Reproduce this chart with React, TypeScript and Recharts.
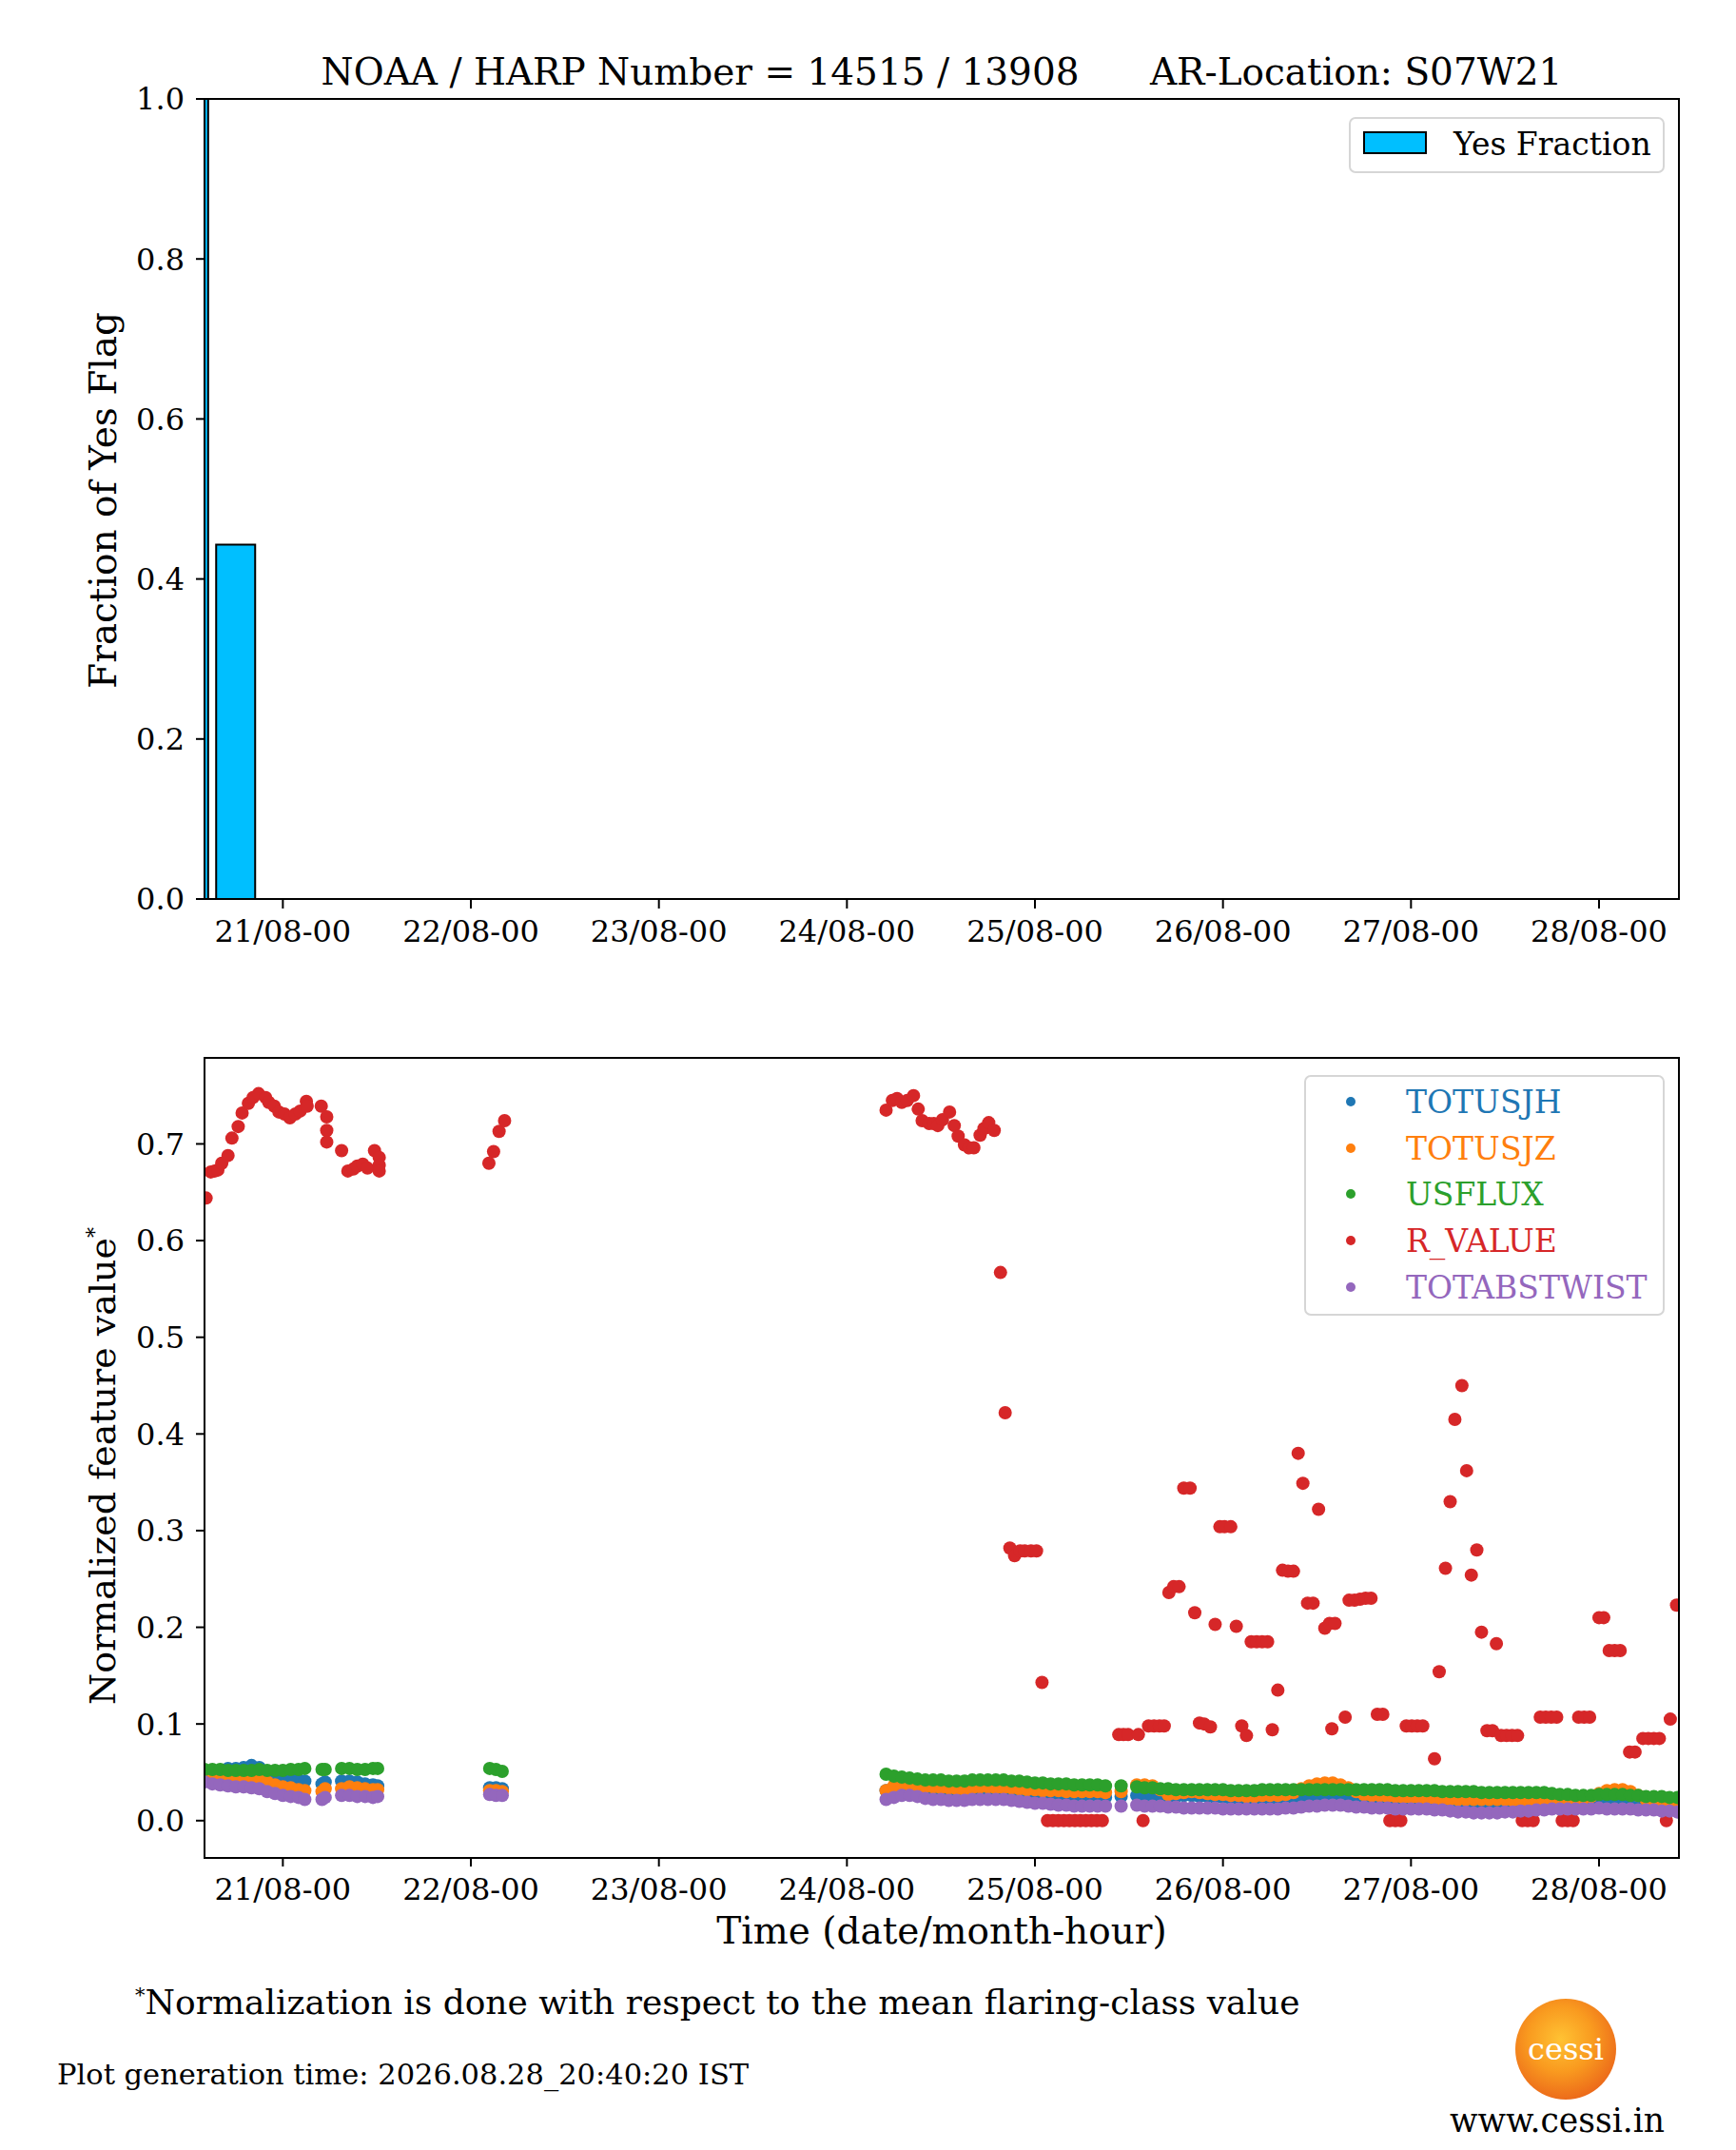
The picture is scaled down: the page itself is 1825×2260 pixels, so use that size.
import React from "react";
import {
  ComposedChart,
  Bar,
  ScatterChart,
  Scatter,
  XAxis,
  YAxis,
} from "recharts";

// hours counted from 20/08 00:00
const X_DOMAIN = [14, 202.2];
const DAY_TICKS = [24, 48, 72, 96, 120, 144, 168, 192];
const DAY_LABELS = ["21/08-00", "22/08-00", "23/08-00", "24/08-00", "25/08-00", "26/08-00", "27/08-00", "28/08-00"];

// top panel: 6-hour bins of the yes-flag fraction
const binHours = [12, 18];
const yesFraction = [1.0, 0.443];
const FRACTION_TICKS = [0, 0.2, 0.4, 0.6, 0.8, 1.0];

// bottom panel: feature cadence (hours) and normalized values
const featureHours = [
  14, 15, 16, 17, 18, 19, 20, 21, 22, 23, 24, 25, 26, 26.8, 29.0, 29.4, 31.5, 32.5, 33.5, 34.5, 35.5, 36.1,
  50.4, 51.2, 52.0,
  101, 102, 103, 104, 105, 106, 107, 108, 109, 110, 111, 112, 113, 114, 115, 116, 117, 118, 119, 120,
  121, 122, 123, 124, 125, 126, 127, 128, 129, 131,
  133, 134, 135, 136, 137, 138, 139, 140, 141, 142, 143, 144, 145, 146, 147, 148, 149, 150, 151, 152,
  153, 154, 155, 156, 157, 158, 159, 160, 161, 162, 163, 164, 165, 166, 167, 168, 169, 170, 171, 172,
  173, 174, 175, 176, 177, 178, 179, 180, 181, 182, 183, 184, 185, 186, 187, 188, 189, 190, 191, 192,
  193, 194, 195, 196, 197, 198, 199, 200, 201, 202,
];

const totusjh = [
  0.049, 0.050, 0.052, 0.054, 0.054, 0.055, 0.057, 0.055, 0.049, 0.046, 0.044, 0.043, 0.042, 0.041, 0.038, 0.040, 0.041, 0.041, 0.040, 0.038, 0.037, 0.036,
  0.034, 0.034, 0.033,
  0.031, 0.032, 0.032, 0.031, 0.030, 0.029, 0.029, 0.029, 0.029, 0.029, 0.030, 0.031, 0.032, 0.032, 0.031, 0.031, 0.030, 0.030, 0.029, 0.029,
  0.028, 0.027, 0.027, 0.027, 0.026, 0.026, 0.025, 0.025, 0.024, 0.025,
  0.026, 0.026, 0.026, 0.026, 0.025, 0.025, 0.026, 0.026, 0.025, 0.025, 0.024, 0.024, 0.023, 0.023, 0.022, 0.022, 0.022, 0.022, 0.022, 0.022,
  0.023, 0.024, 0.024, 0.025, 0.026, 0.026, 0.025, 0.025, 0.024, 0.023, 0.023, 0.022, 0.022, 0.022, 0.022, 0.022, 0.022, 0.022, 0.021, 0.021,
  0.020, 0.019, 0.019, 0.018, 0.018, 0.018, 0.018, 0.018, 0.018, 0.019, 0.019, 0.019, 0.019, 0.020, 0.020, 0.020, 0.021, 0.021, 0.021, 0.022,
  0.022, 0.021, 0.020, 0.020, 0.019, 0.018, 0.018, 0.017, 0.016, 0.015,
];

const totusjz = [
  0.045, 0.044, 0.043, 0.043, 0.043, 0.042, 0.043, 0.042, 0.040, 0.037, 0.035, 0.034, 0.032, 0.031, 0.030, 0.033, 0.033, 0.035, 0.034, 0.033, 0.032, 0.032,
  0.031, 0.031, 0.030,
  0.031, 0.036, 0.038, 0.037, 0.036, 0.035, 0.035, 0.034, 0.034, 0.033, 0.032, 0.034, 0.035, 0.035, 0.034, 0.034, 0.034, 0.033, 0.032, 0.032,
  0.031, 0.031, 0.031, 0.030, 0.030, 0.030, 0.030, 0.030, 0.029, 0.030,
  0.037, 0.037, 0.036, 0.032, 0.027, 0.028, 0.029, 0.030, 0.029, 0.028, 0.027, 0.027, 0.026, 0.026, 0.025, 0.025, 0.026, 0.026, 0.026, 0.027,
  0.029, 0.033, 0.036, 0.038, 0.039, 0.039, 0.037, 0.034, 0.030, 0.027, 0.026, 0.026, 0.025, 0.025, 0.024, 0.024, 0.024, 0.023, 0.023, 0.022,
  0.022, 0.022, 0.022, 0.022, 0.022, 0.022, 0.022, 0.022, 0.021, 0.021, 0.021, 0.022, 0.022, 0.022, 0.022, 0.022, 0.022, 0.023, 0.025, 0.028,
  0.031, 0.032, 0.032, 0.030, 0.026, 0.022, 0.020, 0.019, 0.018, 0.018,
];

const usflux = [
  0.053, 0.053, 0.053, 0.052, 0.052, 0.052, 0.052, 0.053, 0.052, 0.052, 0.052, 0.053, 0.053, 0.054, 0.053, 0.053, 0.054, 0.054, 0.053, 0.053, 0.054, 0.054,
  0.054, 0.053, 0.051,
  0.048, 0.046, 0.045, 0.044, 0.043, 0.042, 0.042, 0.042, 0.041, 0.041, 0.041, 0.042, 0.042, 0.042, 0.042, 0.042, 0.041, 0.041, 0.040, 0.039,
  0.039, 0.038, 0.038, 0.038, 0.037, 0.037, 0.037, 0.037, 0.036, 0.036,
  0.035, 0.034, 0.034, 0.033, 0.033, 0.032, 0.032, 0.032, 0.032, 0.032, 0.032, 0.032, 0.031, 0.031, 0.031, 0.031, 0.032, 0.032, 0.032, 0.032,
  0.032, 0.032, 0.032, 0.032, 0.032, 0.032, 0.032, 0.032, 0.032, 0.032, 0.032, 0.032, 0.032, 0.031, 0.031, 0.031, 0.031, 0.031, 0.031, 0.030,
  0.030, 0.030, 0.030, 0.030, 0.029, 0.029, 0.029, 0.029, 0.029, 0.029, 0.029, 0.029, 0.029, 0.028, 0.027, 0.027, 0.026, 0.026, 0.026, 0.027,
  0.027, 0.027, 0.027, 0.026, 0.026, 0.025, 0.025, 0.025, 0.024, 0.024,
];

const totabstwist = [
  0.040, 0.038, 0.037, 0.036, 0.035, 0.035, 0.034, 0.033, 0.030, 0.028, 0.026, 0.025, 0.024, 0.022, 0.022, 0.024, 0.026, 0.026, 0.025, 0.025, 0.024, 0.025,
  0.027, 0.026, 0.026,
  0.022, 0.024, 0.026, 0.026, 0.025, 0.023, 0.022, 0.022, 0.021, 0.021, 0.021, 0.022, 0.022, 0.022, 0.022, 0.022, 0.021, 0.020, 0.019, 0.018,
  0.018, 0.017, 0.016, 0.016, 0.015, 0.015, 0.015, 0.015, 0.015, 0.015,
  0.016, 0.015, 0.015, 0.015, 0.014, 0.014, 0.013, 0.013, 0.013, 0.013, 0.013, 0.012, 0.012, 0.012, 0.012, 0.012, 0.012, 0.012, 0.012, 0.013,
  0.013, 0.014, 0.015, 0.015, 0.016, 0.016, 0.016, 0.015, 0.014, 0.014, 0.013, 0.013, 0.013, 0.012, 0.012, 0.012, 0.012, 0.012, 0.011, 0.011,
  0.010, 0.009, 0.009, 0.008, 0.008, 0.008, 0.008, 0.009, 0.009, 0.010, 0.010, 0.011, 0.011, 0.012, 0.012, 0.012, 0.012, 0.012, 0.012, 0.013,
  0.012, 0.012, 0.012, 0.012, 0.011, 0.011, 0.011, 0.010, 0.010, 0.009,
];

// R_VALUE has its own (sparser) cadence
const rHours = [
  14.2, 14.8, 15.3, 15.7, 16.2, 17.0, 17.5, 18.3, 18.8, 19.6, 20.2, 20.9, 21.8, 22.2, 22.9, 23.5, 24.2, 24.9, 25.6, 26.2,
  27.0, 27.1, 28.9, 29.6, 29.6, 29.6, 31.5, 32.3, 33.0, 33.5, 34.2, 34.8, 35.7, 36.3, 36.3, 36.3,
  50.3, 50.9, 51.6, 52.3,
  101.0, 101.8, 102.4, 103.0, 103.7, 104.5, 105.1, 105.6, 106.5, 107.1, 107.6, 108.2, 109.1, 109.7, 110.2, 111.0, 111.6, 112.2,
  113.0, 113.5, 114.1, 114.8, 115.6, 116.2, 116.8, 117.4, 118.1, 118.7, 119.5, 120.2, 120.9,
  121.6, 122.3, 123.0, 123.7, 124.4, 125.1, 125.8, 126.5, 127.2, 127.9, 128.6,
  130.7, 131.3, 131.9, 133.2, 133.8, 134.5, 135.2, 135.9, 136.5, 137.1, 137.7, 138.4, 139.0, 139.8, 140.4, 141.0, 141.6, 142.4,
  143.0, 143.6, 144.2, 145.0, 145.7, 146.4, 147.0, 147.6, 148.3, 149.0, 149.7, 150.3, 151.0, 151.6, 152.3, 153.0, 153.6, 154.2,
  154.8, 155.5, 156.2, 157.0, 157.6, 157.9, 158.3, 159.6, 160.1, 160.8, 161.5, 162.2, 162.9, 163.7, 164.4, 165.3, 166.0, 166.7,
  167.4, 168.1, 168.8, 169.5, 171.0, 171.6, 172.4, 173.0, 173.6, 174.5, 175.1, 175.7, 176.4, 177.0, 177.7, 178.4, 178.9, 179.5,
  180.2, 180.9, 181.6, 182.2, 182.9, 183.6, 184.5, 185.2, 185.9, 186.6, 187.3, 188.0, 188.7, 189.4, 190.1, 190.8, 192.0, 192.6,
  193.3, 194.0, 194.7, 195.9, 196.6, 197.6, 198.3, 199.0, 199.7, 200.6, 201.1, 201.9,
];

const rValue = [
  0.644, 0.671, 0.672, 0.673, 0.680, 0.688, 0.706, 0.718, 0.732, 0.742, 0.748, 0.752, 0.748, 0.743, 0.739, 0.733, 0.731, 0.727, 0.731, 0.734,
  0.744, 0.739, 0.739, 0.728, 0.714, 0.702, 0.693, 0.672, 0.674, 0.677, 0.679, 0.675, 0.693, 0.686, 0.678, 0.672,
  0.680, 0.692, 0.713, 0.724,
  0.735, 0.745, 0.747, 0.743, 0.745, 0.750, 0.736, 0.724, 0.721, 0.721, 0.719, 0.725, 0.733, 0.719, 0.708, 0.699, 0.696, 0.696,
  0.709, 0.716, 0.722, 0.714, 0.567, 0.422, 0.282, 0.274, 0.279, 0.279, 0.279, 0.279, 0.143,
  0, 0, 0, 0, 0, 0, 0, 0, 0, 0, 0,
  0.089, 0.089, 0.089, 0.089, 0, 0.098, 0.098, 0.098, 0.098, 0.236, 0.242, 0.242, 0.344, 0.344, 0.215, 0.101, 0.100, 0.097,
  0.203, 0.304, 0.304, 0.304, 0.201, 0.098, 0.088, 0.185, 0.185, 0.185, 0.185, 0.094, 0.135, 0.259, 0.258, 0.258, 0.380, 0.349,
  0.225, 0.225, 0.322, 0.199, 0.204, 0.095, 0.204, 0.107, 0.228, 0.228, 0.229, 0.230, 0.230, 0.110, 0.110, 0, 0, 0,
  0.098, 0.098, 0.098, 0.098, 0.064, 0.154, 0.261, 0.330, 0.415, 0.450, 0.362, 0.254, 0.280, 0.195, 0.093, 0.093, 0.183, 0.088,
  0.088, 0.088, 0.088, 0, 0, 0, 0.107, 0.107, 0.107, 0.107, 0, 0, 0, 0.107, 0.107, 0.107, 0.210, 0.210,
  0.176, 0.176, 0.176, 0.071, 0.071, 0.085, 0.085, 0.085, 0.085, 0, 0.105, 0.223,
];

const FEATURE_TICKS = [0, 0.1, 0.2, 0.3, 0.4, 0.5, 0.6, 0.7];

const FONT = '"DejaVu Serif", serif';
const tickStyle = { fill: "#000", fontSize: 32, fontFamily: FONT };

const yesData = binHours.map((h, i) => ({ h, f: yesFraction[i] }));
const toPoints = (vals: number[]) => featureHours.map((h, i) => ({ h, v: vals[i] }));

const features = [
  { name: "TOTUSJH", color: "#1f77b4", data: toPoints(totusjh) },
  { name: "TOTUSJZ", color: "#ff7f0e", data: toPoints(totusjz) },
  { name: "USFLUX", color: "#2ca02c", data: toPoints(usflux) },
  { name: "R_VALUE", color: "#d62728", data: rHours.map((h, i) => ({ h, v: rValue[i] })) },
  { name: "TOTABSTWIST", color: "#9467bd", data: toPoints(totabstwist) },
];

const dayLabel = (v: number) => DAY_LABELS[DAY_TICKS.indexOf(v)] ?? "";

function Dot(color: string) {
  return (props: any) => <circle cx={props.cx} cy={props.cy} r={7} fill={color} />;
}

function Frame({ top }: { top: number }) {
  return (
    <div
      style={{
        position: "absolute",
        left: 214,
        top,
        width: 1552,
        height: 843,
        boxSizing: "border-box",
        border: "2px solid #000",
        pointerEvents: "none",
      }}
    />
  );
}

const legendBox: React.CSSProperties = {
  position: "absolute",
  boxSizing: "border-box",
  border: "2px solid #d6d6d6",
  borderRadius: 7,
  background: "rgba(255,255,255,0.8)",
  fontFamily: FONT,
  fontSize: 33,
};

export default function App() {
  return (
    <div
      style={{
        position: "absolute",
        left: 0,
        top: 0,
        width: 1825,
        height: 2260,
        background: "#fff",
        fontFamily: FONT,
        color: "#000",
      }}
    >
      {/* title */}
      <div
        style={{
          position: "absolute",
          left: 990,
          top: 75,
          transform: "translate(-50%, -50%)",
          fontSize: 39,
          whiteSpace: "pre",
          lineHeight: 1,
        }}
      >
        {"NOAA / HARP Number = 14515 / 13908      AR-Location: S07W21"}
      </div>

      {/* top panel */}
      <div style={{ position: "absolute", left: 0, top: 0 }}>
        <ComposedChart width={1825} height={1020} data={yesData} margin={{ top: 104, right: 60, bottom: 15, left: 115 }}>
          <XAxis
            type="number"
            dataKey="h"
            domain={X_DOMAIN}
            allowDataOverflow
            ticks={DAY_TICKS}
            tickFormatter={dayLabel}
            height={60}
            tickSize={10}
            tickMargin={12}
            axisLine={false}
            tickLine={{ stroke: "#000", strokeWidth: 2 }}
            tick={tickStyle}
            interval={0}
          />
          <YAxis
            type="number"
            domain={[0, 1]}
            ticks={FRACTION_TICKS}
            tickFormatter={(v: number) => v.toFixed(1)}
            width={100}
            tickSize={9}
            tickMargin={12}
            axisLine={false}
            tickLine={{ stroke: "#000", strokeWidth: 2 }}
            tick={tickStyle}
            interval={0}
          />
          <Bar dataKey="f" fill="#00bfff" stroke="#000" strokeWidth={2} barSize={41} isAnimationActive={false} />
        </ComposedChart>
      </div>
      <Frame top={103} />

      <div
        style={{
          position: "absolute",
          left: 108,
          top: 526,
          transform: "translate(-50%, -50%) rotate(-90deg)",
          fontSize: 39,
          whiteSpace: "nowrap",
          lineHeight: 1,
        }}
      >
        Fraction of Yes Flag
      </div>

      <div style={{ ...legendBox, left: 1418, top: 123, width: 332, height: 59 }}>
        <div
          style={{
            position: "absolute",
            left: 13,
            top: 13,
            width: 67,
            height: 24,
            boxSizing: "border-box",
            background: "#00bfff",
            border: "2px solid #000",
          }}
        />
        <div style={{ position: "absolute", left: 108, top: 26, transform: "translateY(-50%)", lineHeight: 1, whiteSpace: "nowrap" }}>
          Yes Fraction
        </div>
      </div>

      {/* bottom panel */}
      <div style={{ position: "absolute", left: 0, top: 1000 }}>
        <ScatterChart width={1825} height={1020} margin={{ top: 112, right: 60, bottom: 8, left: 115 }}>
          <XAxis
            type="number"
            dataKey="h"
            domain={X_DOMAIN}
            allowDataOverflow
            ticks={DAY_TICKS}
            tickFormatter={dayLabel}
            height={60}
            tickSize={10}
            tickMargin={12}
            axisLine={false}
            tickLine={{ stroke: "#000", strokeWidth: 2 }}
            tick={tickStyle}
            interval={0}
          />
          <YAxis
            type="number"
            dataKey="v"
            domain={[-0.0376, 0.789]}
            allowDataOverflow
            ticks={FEATURE_TICKS}
            tickFormatter={(v: number) => v.toFixed(1)}
            width={100}
            tickSize={9}
            tickMargin={12}
            axisLine={false}
            tickLine={{ stroke: "#000", strokeWidth: 2 }}
            tick={tickStyle}
            interval={0}
          />
          {features.map((s) => (
            <Scatter key={s.name} name={s.name} data={s.data} fill={s.color} shape={Dot(s.color)} isAnimationActive={false} />
          ))}
        </ScatterChart>
      </div>
      <Frame top={1111} />

      <div
        style={{
          position: "absolute",
          left: 108,
          top: 1541,
          transform: "translate(-50%, -50%) rotate(-90deg)",
          fontSize: 38,
          whiteSpace: "nowrap",
          lineHeight: 1,
        }}
      >
        Normalized feature value
        <span style={{ fontSize: 22, verticalAlign: "super" }}>*</span>
      </div>

      <div style={{ ...legendBox, left: 1371, top: 1130, width: 379, height: 253 }}>
        {features.map((s, i) => (
          <div key={s.name}>
            <div
              style={{
                position: "absolute",
                left: 42,
                top: 26 + i * 48.7 - 5,
                width: 10,
                height: 10,
                borderRadius: "50%",
                background: s.color,
              }}
            />
            <div
              style={{
                position: "absolute",
                left: 105,
                top: 26 + i * 48.7,
                transform: "translateY(-50%)",
                lineHeight: 1,
                whiteSpace: "nowrap",
                color: s.color,
              }}
            >
              {s.name}
            </div>
          </div>
        ))}
      </div>

      <div
        style={{
          position: "absolute",
          left: 990,
          top: 2029,
          transform: "translate(-50%, -50%)",
          fontSize: 39,
          whiteSpace: "nowrap",
          lineHeight: 1,
        }}
      >
        Time (date/month-hour)
      </div>

      {/* footer */}
      <div
        style={{
          position: "absolute",
          left: 142,
          top: 2105,
          transform: "translateY(-50%)",
          fontSize: 36,
          whiteSpace: "nowrap",
          lineHeight: 1,
        }}
      >
        <span style={{ fontSize: 21, verticalAlign: "super" }}>*</span>Normalization is done with respect to the mean flaring-class value
      </div>
      <div
        style={{
          position: "absolute",
          left: 60,
          top: 2181,
          transform: "translateY(-50%)",
          fontSize: 30.5,
          whiteSpace: "nowrap",
          lineHeight: 1,
        }}
      >
        Plot generation time: 2026.08.28_20:40:20 IST
      </div>
      <div
        style={{
          position: "absolute",
          left: 1646 - 53,
          top: 2154 - 53,
          width: 106,
          height: 106,
          borderRadius: "50%",
          background: "radial-gradient(circle at 45% 40%, #ffc233 0%, #f99a1f 40%, #ec6a1a 75%, #d8461a 100%)",
          display: "flex",
          alignItems: "center",
          justifyContent: "center",
          color: "#fff",
          fontSize: 32,
          lineHeight: 1,
        }}
      >
        cessi
      </div>
      <div
        style={{
          position: "absolute",
          left: 1637,
          top: 2229,
          transform: "translate(-50%, -50%)",
          fontSize: 34.5,
          whiteSpace: "nowrap",
          lineHeight: 1,
        }}
      >
        www.cessi.in
      </div>
    </div>
  );
}
